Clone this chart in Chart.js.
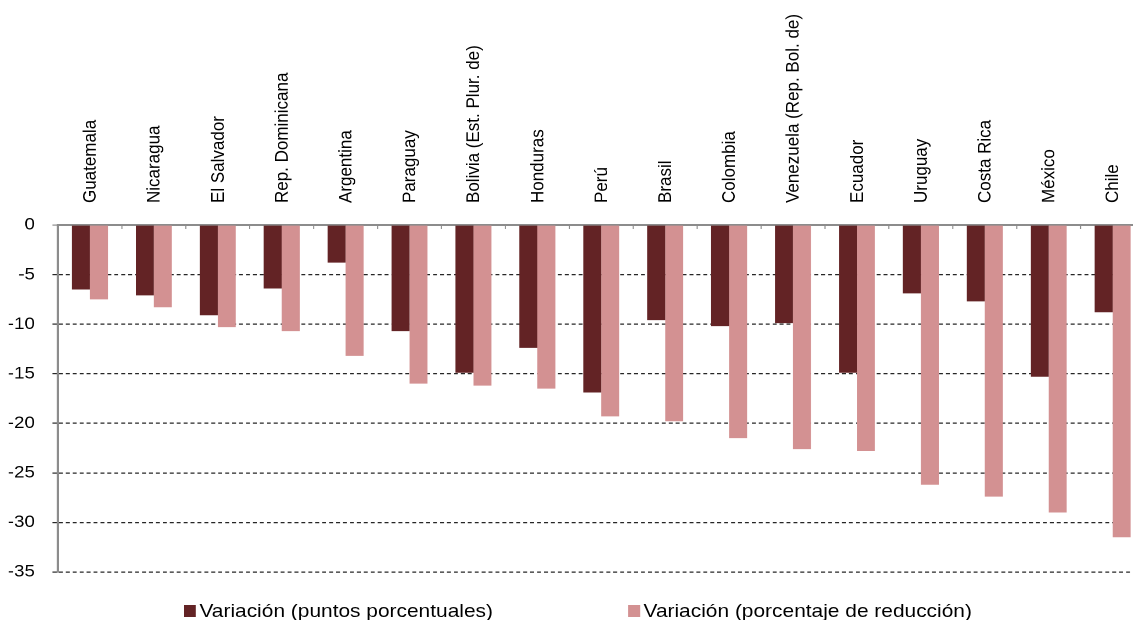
<!DOCTYPE html>
<html lang="es">
<head>
<meta charset="utf-8">
<title>Variación de la pobreza</title>
<script src="https://cdn.jsdelivr.net/npm/chart.js@4/dist/chart.umd.min.js"></script>
<style>
  html, body { margin: 0; padding: 0; background: #ffffff; overflow: hidden; }
  body { width: 1133px; height: 620px; position: relative; }
  #wrap {
    position: absolute; left: 0; top: 0;
    width: 1042px; height: 620px;
    transform: scaleX(1.1); transform-origin: 0 0;
  }
  #chart { position: absolute; left: 0; top: 0; }
  .legend-item {
    position: absolute; top: 601px; height: 20px;
    display: flex; align-items: center;
    font-family: "Liberation Sans", Arial, sans-serif; font-size: 19px; color: #000;
    white-space: nowrap;
  }
  .legend-box { width: 11px; height: 12px; margin-right: 3px; }
</style>
</head>
<body>
<div id="wrap">
  <canvas id="chart"></canvas>
  <div id="legend"></div>
</div>
<script>
// Países, ordenados según la reducción porcentual
const categories = [
  'Guatemala', 'Nicaragua', 'El Salvador', 'Rep. Dominicana', 'Argentina',
  'Paraguay', 'Bolivia (Est. Plur. de)', 'Honduras', 'Perú', 'Brasil',
  'Colombia', 'Venezuela (Rep. Bol. de)', 'Ecuador', 'Uruguay', 'Costa Rica',
  'México', 'Chile'
];

// Variación en puntos porcentuales
const variacionPuntos = [
  -6.5, -7.1, -9.1, -6.4, -3.8,
  -10.7, -14.9, -12.4, -16.9, -9.6,
  -10.2, -9.9, -14.9, -6.9, -7.7,
  -15.3, -8.8
];

// Variación como porcentaje de reducción
const variacionPorcentaje = [
  -7.5, -8.3, -10.3, -10.7, -13.2,
  -16.0, -16.2, -16.5, -19.3, -19.8,
  -21.5, -22.6, -22.8, -26.2, -27.4,
  -29.0, -31.5
];

const seriesNames = ['Variación (puntos porcentuales)', 'Variación (porcentaje de reducción)'];
const yTicks = { min: -35, max: 0, step: 5 };

const DARK = '#632325';
const PINK = '#d39192';
const AXIS = '#8c8c8c';
const GRID = '#262626';
const FONT = '"Liberation Sans", Arial, sans-serif';

// Small inward tick marks along the top category axis
const innerTicks = {
  id: 'innerTicks',
  afterDraw(chart) {
    const xs = chart.scales.x;
    const ctx = chart.ctx;
    const step = (xs.right - xs.left) / categories.length;
    ctx.save();
    ctx.strokeStyle = AXIS;
    ctx.lineWidth = 1;
    for (let i = 1; i < categories.length; i++) {
      const px = xs.getPixelForValue(i) - step / 2;
      ctx.beginPath();
      ctx.moveTo(px, xs.bottom);
      ctx.lineTo(px, xs.bottom + 4);
      ctx.stroke();
    }
    ctx.restore();
  }
};

const canvas = document.getElementById('chart');
canvas.width = 1042;
canvas.height = 620;

const chart = new Chart(canvas, {
  type: 'bar',
  data: {
    labels: categories,
    datasets: [
      { label: seriesNames[0], data: variacionPuntos, backgroundColor: DARK },
      { label: seriesNames[1], data: variacionPorcentaje, backgroundColor: PINK }
    ]
  },
  options: {
    responsive: false,
    maintainAspectRatio: false,
    animation: false,
    devicePixelRatio: 2,
    layout: { padding: { top: 0, left: 0, right: 1.5, bottom: 48 } },
    datasets: { bar: { categoryPercentage: 0.563, barPercentage: 1.0 } },
    plugins: {
      legend: { display: false },
      tooltip: { enabled: false }
    },
    scales: {
      x: {
        position: 'top',
        offset: true,
        grid: { display: true, drawOnChartArea: false, drawTicks: false },
        border: { display: true, color: AXIS, width: 2 },
        ticks: {
          autoSkip: false,
          minRotation: 90,
          maxRotation: 90,
          padding: 22,
          labelOffset: 21,
          color: '#000',
          font: { family: FONT, size: 17 }
        },
        afterFit(scale) { scale.height = 225; }
      },
      y: {
        min: yTicks.min,
        max: yTicks.max,
        ticks: {
          stepSize: yTicks.step,
          padding: 16,
          color: '#000',
          font: { family: FONT, size: 17 }
        },
        grid: {
          color: ctx => (ctx.tick && ctx.tick.value === 0) ? 'rgba(0,0,0,0)' : GRID,
          lineWidth: 1.2,
          tickLength: 5,
          tickColor: ctx => (ctx.tick && ctx.tick.value === 0) ? AXIS : GRID
        },
        border: { display: true, color: AXIS, width: 2, dash: [3.6, 2.7] },
        afterFit(scale) { scale.width = 52.7; }
      }
    }
  },
  plugins: [innerTicks]
});

// Legend built from the chart's datasets
const legendLefts = [167.3, 571];
const legend = document.getElementById('legend');
chart.data.datasets.forEach((ds, i) => {
  const item = document.createElement('div');
  item.className = 'legend-item';
  item.style.left = legendLefts[i] + 'px';
  const box = document.createElement('span');
  box.className = 'legend-box';
  box.style.background = ds.backgroundColor;
  const text = document.createElement('span');
  text.textContent = ds.label;
  item.appendChild(box);
  item.appendChild(text);
  legend.appendChild(item);
});
</script>
</body>
</html>
